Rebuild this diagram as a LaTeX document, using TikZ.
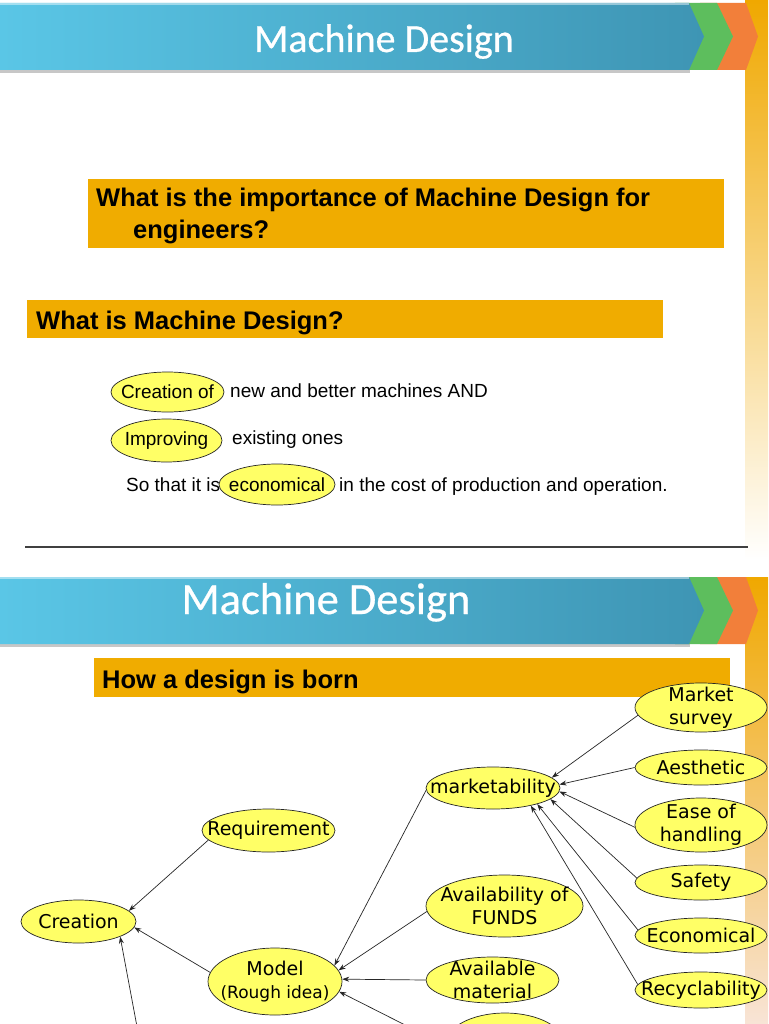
\documentclass[tikz,border=0pt]{standalone}
\usepackage{fontspec}
\setmainfont{Liberation Sans}
\newfontfamily\dvsfont{DejaVu Sans}
\newfontfamily\calfont[FakeBold=0.6]{Carlito}
\usetikzlibrary{shapes.geometric,arrows.meta}
\definecolor{barL}{HTML}{5AC6E6}
\definecolor{barR}{HTML}{3E95B4}
\definecolor{chevG}{HTML}{5DBE5D}
\definecolor{chevO}{HTML}{F27F3A}
\definecolor{gold}{HTML}{F0AC00}
\definecolor{ylw}{HTML}{FFFF66}
\definecolor{stripTop}{HTML}{F0A800}
\definecolor{stripMid}{HTML}{F3CFA6}
\definecolor{stripLow}{HTML}{F8E4D6}
\tikzset{
  bub/.style={ellipse, draw=black!85, line width=0.7pt, fill=ylw, inner sep=0pt},
  btxt/.style={font=\dvsfont\fontsize{19}{23}\selectfont, align=center, inner sep=0pt},
  stxt/.style={font=\fontsize{19}{22}\selectfont, inner sep=0pt},
  arr/.style={-{Stealth[length=7pt,width=5pt]}, line width=0.7pt, draw=black!85},
  hl/.style={font=\bfseries\fontsize{25.5}{30}\selectfont, anchor=base west, inner sep=0pt},
  body/.style={font=\fontsize{19}{22}\selectfont, anchor=base west, inner sep=0pt},
  ttl/.style={text=white, anchor=base, inner sep=0pt},
}
\begin{document}
\begin{tikzpicture}[x=1pt,y=-1pt]
\useasboundingbox (0,0) rectangle (768,1024);
\clip (0,0) rectangle (768,1024);
\fill[white] (0,0) rectangle (768,1024);
% side strips
\shade[top color=stripTop, middle color=stripMid, bottom color=white] (745,0) rectangle (768,560);
\shade[top color=stripTop, middle color=stripMid!90!stripTop, bottom color=stripLow] (745,577) rectangle (768,1024);
% header bars
\foreach \o in {0,574}{
\begin{scope}[yshift=-\o pt]
\fill[chevO] (700,3) -- (746,3) -- (758,36.5) -- (746,70) -- (700,70) -- cycle;
\fill[chevG] (675,3) -- (717,3) -- (733,36.5) -- (717,70) -- (675,70) -- cycle;
\fill[black, opacity=0.22] (0,70) rectangle (690,73);
\shade[left color=barL, right color=barR] (0,3) -- (689,3) -- (704,36.5) -- (689,70) -- (0,70) -- cycle;
\draw[white, opacity=0.45, line width=1.5pt] (0,4) -- (689,4);
\end{scope}
}
\node[ttl, font=\calfont\fontsize{40}{48}\selectfont] (t1) at (384,52) {Machine Design};
\node[ttl, font=\calfont\fontsize{44.5}{52}\selectfont] (t2) at (326,614) {Machine Design};
% question boxes
\fill[gold] (88,179) rectangle (724,248);
\node[hl] (q1a) at (96,207) {What is the importance of Machine Design for};
\node[hl] (q1b) at (133,239) {engineers?};
\fill[gold] (27,300) rectangle (663,338);
\node[hl] (q2) at (36,329) {What is Machine Design?};
% definition lines
\node[bub, minimum width=113pt, minimum height=40pt, label={[stxt]center:Creation of}] (e1) at (167.5,392) {};
\node[body] (l1) at (230,397) {new and better machines AND};
\node[bub, minimum width=111pt, minimum height=43pt, label={[stxt]center:Improving}] (e2) at (166.5,440.5) {};
\node[body] (l2) at (232,444) {existing ones};
\node[body] (l3a) at (126,491) {So that it is};
\node[bub, minimum width=116pt, minimum height=41pt, label={[stxt]center:economical}] (e3) at (277,484.5) {};
\node[body] (l3b) at (339,491) {in the cost of production and operation.};
% separator
\draw[line width=1.4pt, black!75] (25,547) -- (748,547);
% second slide box
\fill[gold] (94,658) rectangle (730,697);
\node[hl] (q3) at (102,688) {How a design is born};
% diagram nodes
\node[bub, minimum width=132pt, minimum height=49pt, label={[btxt]center:{Market\\survey}}] (ms) at (701,707.5) {};
\node[bub, minimum width=132pt, minimum height=35pt, label={[btxt]center:Aesthetic}] (aes) at (701,767.5) {};
\node[bub, minimum width=132pt, minimum height=54pt, label={[btxt]center:{Ease of\\handling}}] (ease) at (701,825) {};
\node[bub, minimum width=132pt, minimum height=35pt, label={[btxt]center:Safety}] (saf) at (701,882.5) {};
\node[bub, minimum width=132pt, minimum height=35pt, label={[btxt]center:Economical}] (eco) at (701,935.5) {};
\node[bub, minimum width=132pt, minimum height=36pt, label={[btxt]center:Recyclability}] (rec) at (701,990) {};
\node[bub, minimum width=134pt, minimum height=42pt, label={[btxt]center:marketability}] (mkt) at (493,788) {};
\node[bub, minimum width=157pt, minimum height=62pt, label={[btxt]center:{Availability of\\FUNDS}}] (fund) at (504.5,906) {};
\node[bub, minimum width=133pt, minimum height=46pt, label={[btxt]center:{Available\\material}}] (mat) at (492.5,980) {};
\node[bub, minimum width=120pt, minimum height=64pt] (hid) at (505,1045) {};
\node[bub, minimum width=133pt, minimum height=43pt, label={[btxt]center:Requirement}] (req) at (268.5,830.5) {};
\node[bub, minimum width=115pt, minimum height=43pt, label={[btxt]center:Creation}] (cre) at (78.5,921.5) {};
\node[bub, minimum width=134pt, minimum height=67pt, label={[btxt]center:{Model\\{\fontsize{17}{21}\selectfont(Rough idea)}}}] (mod) at (275,981.5) {};
\coordinate (below) at (139.5,1040);
% connectors
\draw[arr] (req.189) -- (cre.12);
\draw[arr] (mod.172) -- (cre.354);
\draw[arr] (below) -- (cre.340);
\draw[arr] (mkt.182) -- (mod.15);
\draw[arr] (fund.184) -- (mod.10);
\draw[arr] (mat.180) -- (mod.2);
\draw[arr] (hid.180) -- (mod.351);
\draw[arr] (ms.187) -- (mkt.10);
\draw[arr] (aes.180) -- (mkt.3);
\draw[arr] (ease.182) -- (mkt.357);
\draw[arr] (saf.176) -- (mkt.349);
\draw[arr] (eco.175) -- (mkt.340);
\draw[arr] (rec.175) -- (mkt.335);
\end{tikzpicture}
\end{document}
